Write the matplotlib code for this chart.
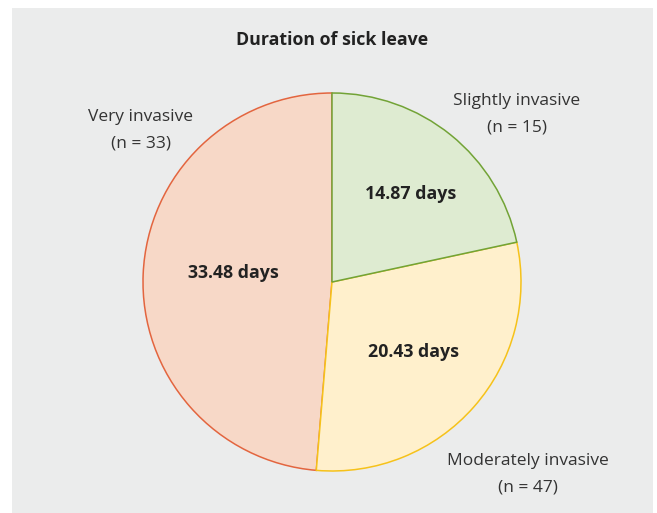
import matplotlib
matplotlib.use("Agg")
import matplotlib.pyplot as plt
from matplotlib.patches import Rectangle

plt.rcParams["font.family"] = ["Open Sans", "DejaVu Sans"]

# data
groups = ["Slightly invasive", "Moderately invasive", "Very invasive"]
counts = [15, 47, 33]
days = [14.87, 20.43, 33.48]

fills = ["#deebd1", "#fff0cc", "#f7d8c7"]
edges = ["#72a336", "#f6c21a", "#e3653f"]

W, H = 657, 513
fig = plt.figure(figsize=(W / 100, H / 100), dpi=100)
fig.patch.set_facecolor("white")

ax = fig.add_axes([0, 0, 1, 1])
ax.set_facecolor("none")
# grey panel behind the chart
ax.add_patch(Rectangle((12, 0), 653 - 12, H - 8, facecolor="#ebecec",
                       edgecolor="none", zorder=0))

cx, cy, r = 332, H - 282, 189
wedges, _ = ax.pie(days, colors=fills, startangle=90, counterclock=False,
                   center=(cx, cy), radius=r,
                   wedgeprops=dict(linewidth=1.1))
# first slice on top so shared borders take its colour
for i, (w, ec) in enumerate(zip(wedges, edges)):
    w.set_edgecolor(ec)
    w.set_zorder(5 - i)

ax.set_xlim(0, W)
ax.set_ylim(0, H)
ax.set_aspect("equal")
ax.axis("off")

ax.text(332, H - 40, "Duration of sick leave", ha="center", va="center",
        fontsize=12.8, fontweight="bold", color="#222222", zorder=10)

# value labels inside slices
val_pos = [(411, 194), (413, 352), (233, 273)]
for (x, y), d in zip(val_pos, days):
    ax.text(x, H - y, f"{d:.2f} days", ha="center", va="center",
            fontsize=12.8, fontweight="bold", color="#222222", zorder=10)

# group labels outside
lab_pos = [(517, 101), (528, 461), (141, 117)]
for (x, y), g, n in zip(lab_pos, groups, counts):
    ax.text(x, H - y, g, ha="center", va="center",
            fontsize=12.5, color="#333333", zorder=10)
    ax.text(x, H - y - 27, f"(n = {n})", ha="center", va="center",
            fontsize=12.5, color="#333333", zorder=10)

fig.savefig("out.png", dpi=100)
